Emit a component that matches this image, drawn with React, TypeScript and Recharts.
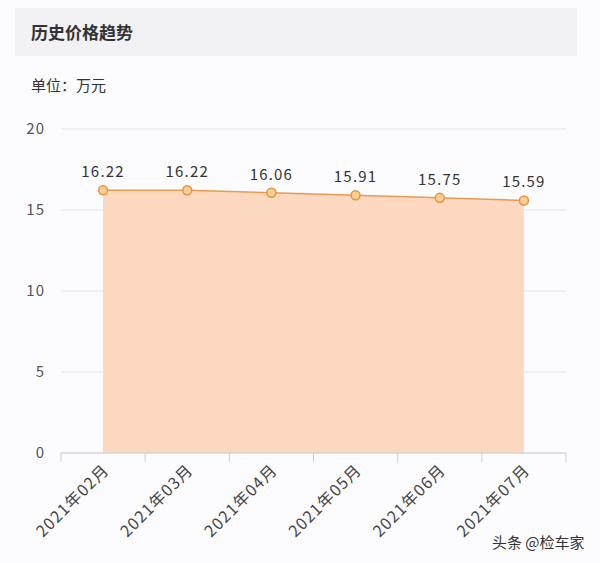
import React from 'react'
import { Area, AreaChart, CartesianGrid, LabelList, XAxis, YAxis } from 'recharts'

const months = ['2021年02月', '2021年03月', '2021年04月', '2021年05月', '2021年06月', '2021年07月']
const prices = [16.22, 16.22, 16.06, 15.91, 15.75, 15.59]
const yTicks = [0, 5, 10, 15, 20]

const data = months.map((m, i) => ({ month: m, price: prices[i] }))

const FONT = '"Noto Sans CJK SC", "Noto Sans", sans-serif'
const HALF_BAND = 42.08

function MonthTick({ x, y, payload, index }: any) {
  return (
    <g>
      <line x1={x - HALF_BAND} x2={x - HALF_BAND} y1={y} y2={y + 9} stroke="#c9ced6" />
      {index === months.length - 1 && (
        <line x1={x + HALF_BAND} x2={x + HALF_BAND} y1={y} y2={y + 9} stroke="#c9ced6" />
      )}
      <text
        x={x + 7}
        y={y + 18}
        textAnchor="end"
        fontSize={16}
        letterSpacing={1.2}
        fill="#444"
        fontFamily={FONT}
        transform={`rotate(-45, ${x + 7}, ${y + 18})`}
      >
        {payload.value}
      </text>
    </g>
  )
}

export default function App() {
  return (
    <div style={{ position: 'absolute', left: 0, top: 0, width: 600, height: 563, background: '#fcfcfe', fontFamily: FONT }}>
      <div style={{ position: 'absolute', left: 15, top: 8, width: 562, height: 48, background: '#f2f2f4' }} />
      <div style={{ position: 'absolute', left: 31, top: 20, fontSize: 17, fontWeight: 700, color: '#333', lineHeight: '24px' }}>
        历史价格趋势
      </div>
      <div style={{ position: 'absolute', left: 31, top: 74, fontSize: 15, color: '#333', lineHeight: '22px' }}>
        单位：万元
      </div>
      <div style={{ position: 'absolute', left: 0, top: 0 }}>
        <AreaChart width={600} height={563} data={data} margin={{ top: 129, right: 34, bottom: 0, left: 0 }}>
          <CartesianGrid stroke="#e2e5ea" vertical={false} />
          <XAxis
            dataKey="month"
            padding={{ left: HALF_BAND, right: HALF_BAND }}
            tickLine={false}
            tickSize={0}
            tickMargin={0}
            axisLine={{ stroke: '#c9ced6' }}
            tick={<MonthTick />}
            interval={0}
            height={110}
          />
          <YAxis
            domain={[0, 20]}
            ticks={yTicks}
            width={61}
            axisLine={false}
            tickLine={false}
            tickMargin={10}
            tick={{ fontSize: 15, fill: '#555', fontFamily: FONT, letterSpacing: 1 }}
          />
          <Area
            type="linear"
            dataKey="price"
            stroke="#e99a50"
            strokeWidth={1.5}
            fill="#fdd8c0"
            fillOpacity={1}
            dot={{ r: 4.5, fill: '#fbcf8c', stroke: '#e2944c', strokeWidth: 1.5 }}
            isAnimationActive={false}
          >
            <LabelList dataKey="price" position="top" offset={13} fontSize={15} letterSpacing={1.2} fill="#333" fontFamily={FONT} />
          </Area>
        </AreaChart>
      </div>
      <div style={{ position: 'absolute', left: 492, top: 532, fontSize: 15, color: '#333', lineHeight: '20px' }}>
        头条 @检车家
      </div>
    </div>
  )
}
